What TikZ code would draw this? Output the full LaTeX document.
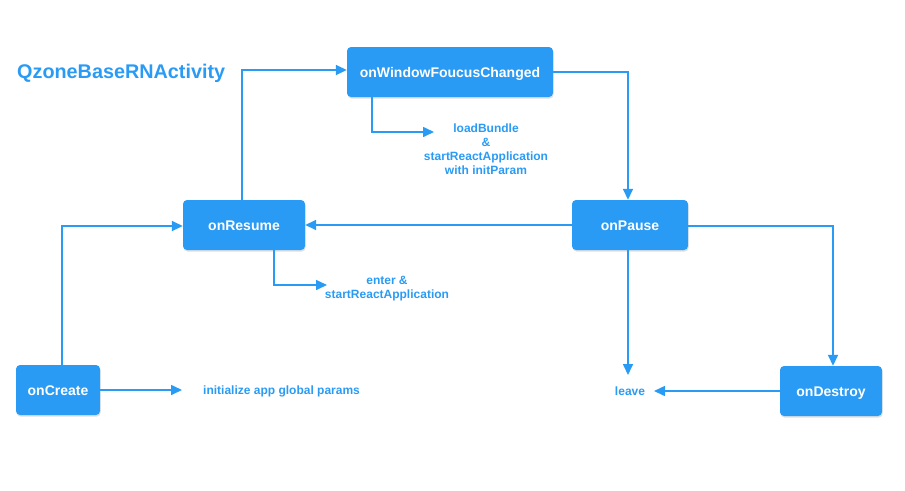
\documentclass[tikz,border=0pt]{standalone}
\usepackage{fontspec}
\setmainfont{Liberation Sans}
\usetikzlibrary{arrows.meta,shadows,calc}
\definecolor{qblue}{HTML}{2A9BF4}
\begin{document}
\begin{tikzpicture}[x=1pt,y=-1pt,
  box/.style={draw=none,fill=qblue,rounded corners=4pt,text=white,font=\bfseries\fontsize{14}{16}\selectfont,
    inner sep=0pt,text height=10pt,text depth=0pt,drop shadow={opacity=0.25,shadow xshift=0.6pt,shadow yshift=-1.6pt}},
  lbl/.style={text=qblue,font=\bfseries\fontsize{12}{14}\selectfont,align=center,inner sep=0pt},
  conn/.style={draw=qblue,line width=1.6pt,-{Triangle[length=11pt,width=10pt]}}]
\useasboundingbox (0,0) rectangle (905,490);
\node[text=qblue,font=\bfseries\fontsize{19.8}{22}\selectfont,anchor=west,inner sep=0pt] (title) at (17,73) {QzoneBaseRNActivity};
\node[box,minimum width=206pt,minimum height=50pt] (wfc) at (450,72) {onWindowFoucusChanged};
\node[box,minimum width=122pt,minimum height=50pt] (res) at (244,225) {onResume};
\node[box,minimum width=116pt,minimum height=50pt] (pau) at (630,225) {onPause};
\node[box,minimum width=84pt,minimum height=50pt] (cre) at (58,390) {onCreate};
\node[box,minimum width=102pt,minimum height=50pt] (des) at (831,391) {onDestroy};
\node[lbl] (lb) at (486,149) {loadBundle\\\&\\startReactApplication\\with initParam};
\node[lbl] (ent) at (387,288.5) {enter \&\\startReactApplication};
\node[lbl,anchor=west] (ini) at (203,391) {initialize app global params};
\node[lbl] (lea) at (630,391) {leave};
\coordinate (lbarr) at (434,132);
\coordinate (entarr) at (327,285);
\coordinate (iniarr) at (182,390);
\coordinate (leatop) at (628,375);
\coordinate (leaarr) at (654,391);
% connectors
\draw[conn] ([xshift=-2pt]res.north) |- ([yshift=2pt]wfc.west);
\draw[conn] (wfc.east) -| ([xshift=-2pt]pau.north);
\draw[conn] (pau.west) -- (res.east);
\draw[conn] ([yshift=-1pt]pau.east) -| ([xshift=2pt]des.north);
\draw[conn] ([xshift=-2pt]pau.south) -- (leatop);
\draw[conn] (des.west) -- (leaarr);
\draw[conn] ([xshift=4pt]cre.north) |- ([yshift=-1pt]res.west);
\draw[conn] (cre.east) -- (iniarr);
\draw[conn] ([xshift=-78pt]wfc.south) |- (lbarr);
\draw[conn] ([xshift=30pt]res.south) |- (entarr);
\end{tikzpicture}
\end{document}
